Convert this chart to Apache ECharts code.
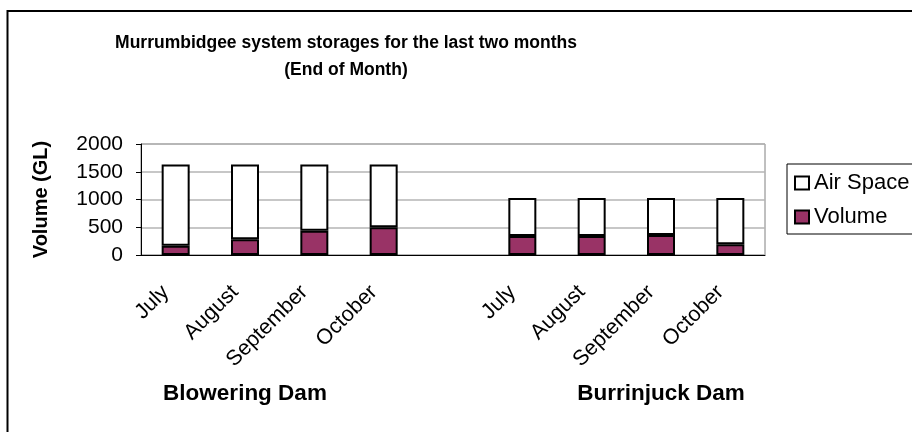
<!DOCTYPE html>
<html>
<head>
<meta charset="utf-8">
<script src="https://cdn.jsdelivr.net/npm/echarts@6/dist/echarts.min.js"></script>
<style>
  html, body { margin: 0; padding: 0; background: #fff; }
  #chart { width: 912px; height: 432px; }
</style>
</head>
<body>
<div id="chart"></div>
<script>
// categories along the bottom (blank slot separates the two dams)
const months = ['July', 'August', 'September', 'October', '', 'July', 'August', 'September', 'October']
const dams = ['Blowering Dam', '', 'Burrinjuck Dam']

// end of month volumes (GL)
const volume = [168, 283, 438, 499, null, 342, 342, 360, 193]
// remaining air space (GL) on top of the volume
const airSpace = [1462, 1347, 1192, 1131, null, 683, 683, 665, 832]

const yTicks = { min: 0, max: 2000, interval: 500 }

const font = 'Liberation Sans, Arial, sans-serif'

const chart = echarts.init(document.getElementById('chart'))

const option = {
  animation: false,
  textStyle: { fontFamily: font, color: '#000' },
  title: {
    text: 'Murrumbidgee system storages for the last two months\n(End of Month)',
    left: 346,
    top: 30,
    padding: 0,
    textAlign: 'center',
    textStyle: {
      fontFamily: font,
      fontSize: 17.5,
      fontWeight: 'bold',
      lineHeight: 27,
      color: '#000'
    }
  },
  legend: {
    orient: 'vertical',
    left: 787,
    top: 164,
    padding: [8, 60, 6, 7],
    itemGap: 12,
    itemWidth: 14,
    itemHeight: 13,
    borderColor: '#000',
    borderWidth: 1,
    icon: 'rect',
    data: ['Air Space', 'Volume'],
    textStyle: { fontFamily: font, fontSize: 22, color: '#000', padding: [0, 0, 0, 0] }
  },
  grid: {
    left: 141,
    right: 147,
    top: 144,
    bottom: 177,
    show: true,
    borderColor: '#808080',
    borderWidth: 1
  },
  graphic: [
    {
      type: 'rect',
      shape: { x: 7.5, y: 11, width: 1000, height: 1000 },
      style: { fill: 'none', stroke: '#000', lineWidth: 2 },
      silent: true
    }
  ],
  xAxis: [
    {
      type: 'category',
      data: months,
      axisLine: { lineStyle: { color: '#000', width: 1 } },
      axisTick: { length: 7, lineStyle: { color: '#000' } },
      axisLabel: {
        rotate: 45,
        margin: 24,
        padding: [0, 14, 0, 0],
        fontSize: 21.5,
        fontFamily: font,
        color: '#000',
        interval: 0
      }
    },
    {
      type: 'category',
      data: dams,
      position: 'bottom',
      axisLine: { show: false },
      axisTick: { show: false },
      splitLine: { show: false },
      axisLabel: {
        margin: 127,
        fontSize: 22.5,
        fontWeight: 'bold',
        fontFamily: font,
        color: '#000',
        interval: 0
      }
    }
  ],
  yAxis: {
    type: 'value',
    min: yTicks.min,
    max: yTicks.max,
    interval: yTicks.interval,
    name: 'Volume (GL)',
    nameLocation: 'middle',
    nameGap: 90,
    nameTextStyle: { fontFamily: font, fontSize: 20, fontWeight: 'bold', color: '#000' },
    axisLine: { show: true, lineStyle: { color: '#000', width: 1 } },
    axisTick: { show: true, length: 5, lineStyle: { color: '#000' } },
    axisLabel: {
      margin: 18,
      fontSize: 21,
      fontFamily: font,
      color: '#000',
      formatter: (v) => String(v)
    },
    splitLine: { lineStyle: { color: '#b4b4b4', width: 1.5 } }
  },
  series: [
    {
      name: 'Volume',
      type: 'bar',
      stack: 'storage',
      barWidth: 28,
      data: volume,
      itemStyle: { color: '#993366', borderColor: '#000', borderWidth: 2 }
    },
    {
      name: 'Air Space',
      type: 'bar',
      stack: 'storage',
      barWidth: 28,
      data: airSpace,
      itemStyle: { color: '#fff', borderColor: '#000', borderWidth: 2 }
    }
  ]
}

chart.setOption(option)
</script>
</body>
</html>
